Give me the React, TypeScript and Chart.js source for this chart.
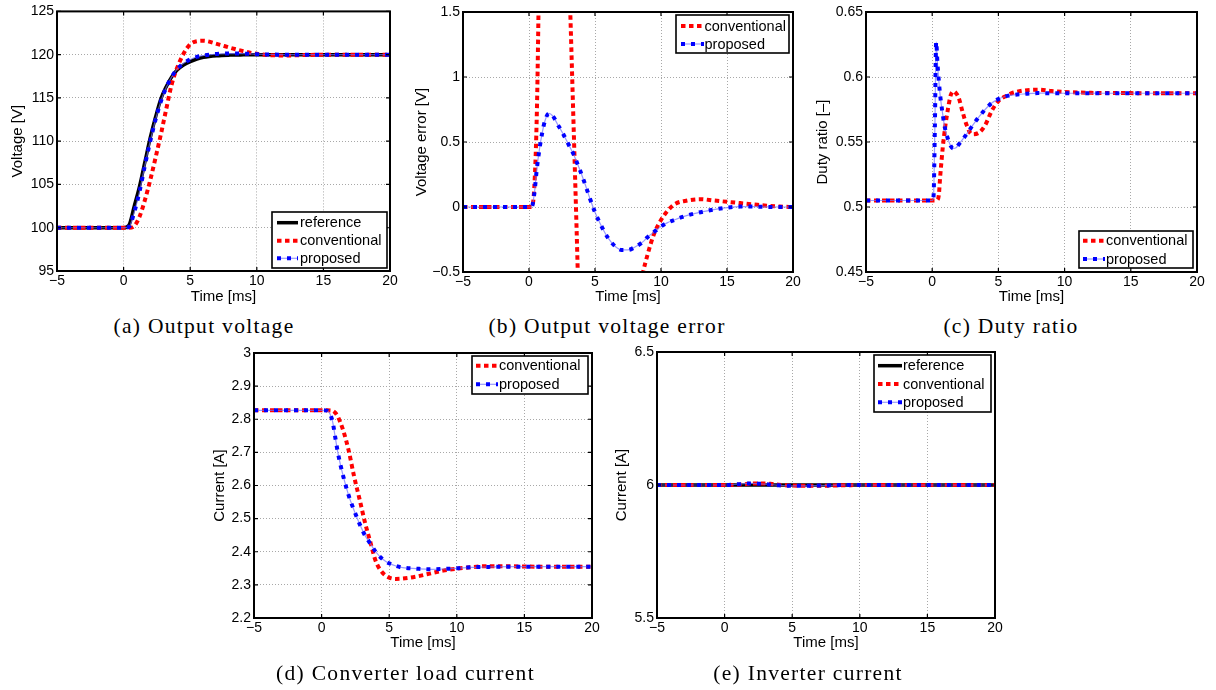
import React, { useEffect, useRef } from "react";
import { Chart, registerables } from "chart.js";

Chart.register(...registerables);

// ---------------- data ----------------
const timeTicks = [-5, 0, 5, 10, 15, 20];

// (a) Output voltage
const timeA = [-5, 0, 0.4, 0.8, 1.2, 1.6, 2.0, 2.4, 2.8, 3.2, 3.6, 4.0, 4.5, 5, 5.5, 6, 7, 8, 9, 10, 11, 12, 14, 16, 20];
const voltageReference = [100, 100, 100.3, 102.5, 104.8, 107.6, 110.4, 112.8, 114.9, 116.3, 117.4, 118.2, 118.8, 119.2, 119.5, 119.7, 119.88, 119.95, 119.98, 120, 120, 120, 120, 120, 120];
const voltageConventional = [100, 100, 100, 100.2, 101.3, 103.2, 105.5, 108.1, 110.8, 113.7, 116.5, 118.4, 120.1, 121.2, 121.55, 121.6, 121.25, 120.8, 120.4, 120.1, 119.95, 119.9, 119.97, 120, 120];
const voltageProposed = [100, 100, 100.1, 101.8, 104.2, 107.2, 110.0, 112.5, 114.6, 116.2, 117.4, 118.3, 119.0, 119.45, 119.75, 119.9, 120.08, 120.13, 120.12, 120.06, 120.02, 120, 120, 120, 120];
const voltageTicks = [95, 100, 105, 110, 115, 120, 125];

// (b) Output voltage error
const timeB = [-5, 0, 0.2, 0.4, 0.6, 0.8, 1.0, 1.2, 1.5, 1.8, 2.2, 2.6, 3.0, 3.2, 3.4, 3.6, 3.8, 4.2, 4.6, 5.0, 5.5, 6.0, 6.5, 7.0, 7.5, 8.0, 8.6, 9.0, 9.5, 10, 10.5, 11, 12, 13, 14, 15, 16, 17, 18, 19, 20];
const errorConventional = [0, 0, 0.0, 0.15, 0.75, 2.0, 2.8, 3.5, 4.3, 4.8, 4.7, 3.6, 1.95, 1.25, 0.55, -0.15, -0.85, -1.5, -1.8, -1.9, -1.9, -1.8, -1.6, -1.4, -1.1, -0.85, -0.52, -0.36, -0.2, -0.1, -0.03, 0.02, 0.05, 0.06, 0.05, 0.04, 0.03, 0.02, 0.01, 0.003, 0];
const errorProposed = [0, 0, 0, 0.1, 0.3, 0.45, 0.57, 0.66, 0.72, 0.7, 0.63, 0.56, 0.48, 0.44, 0.4, 0.35, 0.3, 0.19, 0.07, -0.04, -0.15, -0.24, -0.3, -0.33, -0.33, -0.31, -0.27, -0.23, -0.19, -0.15, -0.12, -0.1, -0.065, -0.04, -0.02, -0.005, 0.003, 0.003, 0.001, 0, 0];
const errorTicks = [-0.5, 0, 0.5, 1, 1.5];

// (c) Duty ratio
const timeC = [-5, 0, 0.1, 0.2, 0.3, 0.4, 0.5, 0.6, 0.7, 0.8, 0.9, 1.0, 1.2, 1.4, 1.6, 1.8, 2.0, 2.3, 2.6, 3.0, 3.5, 4.0, 4.5, 5.0, 5.5, 6.0, 7.0, 8.0, 9.0, 10, 12, 15, 20];
const dutyConventional = [0.505, 0.505, 0.505, 0.505, 0.505, 0.5055, 0.509, 0.523, 0.535, 0.546, 0.555, 0.563, 0.576, 0.586, 0.589, 0.5875, 0.584, 0.573, 0.563, 0.556, 0.557, 0.563, 0.574, 0.5815, 0.585, 0.5875, 0.5897, 0.5902, 0.5892, 0.5885, 0.5878, 0.5876, 0.5875];
const dutyProposed = [0.505, 0.505, 0.508, 0.56, 0.627, 0.61, 0.597, 0.586, 0.578, 0.571, 0.564, 0.559, 0.552, 0.547, 0.545, 0.5455, 0.548, 0.552, 0.556, 0.562, 0.569, 0.575, 0.58, 0.583, 0.585, 0.586, 0.587, 0.5876, 0.5875, 0.5875, 0.5875, 0.5875, 0.5875];
const dutyTicks = [0.45, 0.5, 0.55, 0.6, 0.65];

// (d) Converter load current
const timeD = [-5, 0, 0.4, 0.8, 1.0, 1.2, 1.6, 2.0, 2.4, 2.8, 3.2, 3.6, 4.0, 4.5, 5.0, 5.5, 6.0, 7.0, 8.0, 9.0, 10, 11, 12, 14, 16, 20];
const loadConventional = [2.827, 2.827, 2.827, 2.826, 2.82, 2.808, 2.766, 2.706, 2.628, 2.56, 2.49, 2.43, 2.372, 2.337, 2.322, 2.318, 2.319, 2.325, 2.334, 2.343, 2.349, 2.353, 2.356, 2.356, 2.355, 2.355];
const loadProposed = [2.827, 2.827, 2.826, 2.795, 2.748, 2.7, 2.628, 2.57, 2.525, 2.485, 2.45, 2.425, 2.4, 2.378, 2.365, 2.357, 2.352, 2.349, 2.347, 2.348, 2.35, 2.353, 2.354, 2.355, 2.355, 2.355];
const loadTicks = [2.2, 2.3, 2.4, 2.5, 2.6, 2.7, 2.8, 2.9, 3];

// (e) Inverter current
const timeE = [-5, 0, 1, 1.5, 2, 2.5, 3, 3.5, 4, 5, 6, 7, 8, 9, 10, 12, 15, 20];
const inverterReference = [6, 6, 6, 6, 6, 6, 6, 6, 6, 6, 6, 6, 6, 6, 6, 6, 6, 6];
const inverterConventional = [6, 6, 6.001, 6.003, 6.005, 6.006, 6.006, 6.004, 6.001, 5.998, 5.997, 5.997, 5.998, 5.999, 6, 6, 6, 6];
const inverterProposed = [6, 6, 6.003, 6.005, 6.006, 6.005, 6.003, 6.001, 5.999, 5.997, 5.997, 5.998, 5.999, 6, 6, 6, 6, 6];
const inverterTicks = [5.5, 6, 6.5];

// ---------------- styles ----------------
type Layer = { color: string; width: number; dash: number[] };
const STYLES: Record<string, Layer[]> = {
  reference: [{ color: "#000000", width: 3.5, dash: [] }],
  conventional: [{ color: "#ff0000", width: 4, dash: [4.5, 3.5] }],
  proposed: [
    { color: "rgba(110,110,255,0.7)", width: 1.2, dash: [] },
    { color: "#0000ff", width: 4, dash: [4, 6] },
  ],
};

const SANS = "'Liberation Sans', Arial, Helvetica, sans-serif";
const GRID = "#a8a8a8";

type Series = { kind: string; label: string; values: number[] };
type PanelDef = {
  x: number; y: number; w: number; h: number;
  area: { l: number; t: number; r: number; b: number };
  yMin: number; yMax: number; yTicks: number[]; yTitle: string;
  yTitleX: number; xTitleY: number;
  times: number[]; series: Series[];
  legend: { x1: number; x2: number; y1: number; y2: number; rows: number[]; s1: number; s2: number; tx: number };
  caption: string; captionX: number; captionY: number;
};

const PANELS: PanelDef[] = [
  {
    x: 0, y: 0, w: 400, h: 310,
    area: { l: 57, t: 9, r: 390, b: 271 },
    yMin: 95, yMax: 125, yTicks: voltageTicks, yTitle: "Voltage [V]",
    yTitleX: 18, xTitleY: 297,
    times: timeA,
    series: [
      { kind: "reference", label: "reference", values: voltageReference },
      { kind: "conventional", label: "conventional", values: voltageConventional },
      { kind: "proposed", label: "proposed", values: voltageProposed },
    ],
    legend: { x1: 272, x2: 387, y1: 212, y2: 268, rows: [222.7, 240.7, 258.3], s1: 277, s2: 298, tx: 300 },
    caption: "(a) Output voltage", captionX: 204, captionY: 326,
  },
  {
    x: 400, y: 0, w: 405, h: 310,
    area: { l: 63, t: 12, r: 393, b: 272 },
    yMin: -0.5, yMax: 1.5, yTicks: errorTicks, yTitle: "Voltage error [V]",
    yTitleX: 21.7, xTitleY: 297,
    times: timeB,
    series: [
      { kind: "conventional", label: "conventional", values: errorConventional },
      { kind: "proposed", label: "proposed", values: errorProposed },
    ],
    legend: { x1: 676, x2: 789, y1: 15, y2: 53, rows: [26, 44], s1: 681, s2: 704, tx: 704.5 },
    caption: "(b) Output voltage error", captionX: 607, captionY: 326,
  },
  {
    x: 805, y: 0, w: 411, h: 310,
    area: { l: 61, t: 12, r: 392, b: 272 },
    yMin: 0.45, yMax: 0.65, yTicks: dutyTicks, yTitle: "Duty ratio [\u2013]",
    yTitleX: 18, xTitleY: 297,
    times: timeC,
    series: [
      { kind: "conventional", label: "conventional", values: dutyConventional },
      { kind: "proposed", label: "proposed", values: dutyProposed },
    ],
    legend: { x1: 1079, x2: 1193, y1: 231, y2: 268, rows: [240.7, 259], s1: 1083, s2: 1105, tx: 1106 },
    caption: "(c) Duty ratio", captionX: 1011, captionY: 326,
  },
  {
    x: 200, y: 340, w: 405, h: 325,
    area: { l: 54, t: 13, r: 392, b: 278 },
    yMin: 2.2, yMax: 3, yTicks: loadTicks, yTitle: "Current [A]",
    yTitleX: 19.7, xTitleY: 303.3,
    times: timeD,
    series: [
      { kind: "conventional", label: "conventional", values: loadConventional },
      { kind: "proposed", label: "proposed", values: loadProposed },
    ],
    legend: { x1: 472, x2: 588, y1: 356, y2: 394, rows: [365.7, 384.3], s1: 476, s2: 498, tx: 499 },
    caption: "(d) Converter load current", captionX: 405.5, captionY: 673,
  },
  {
    x: 605, y: 340, w: 405, h: 325,
    area: { l: 52, t: 12, r: 390, b: 278 },
    yMin: 5.5, yMax: 6.5, yTicks: inverterTicks, yTitle: "Current [A]",
    yTitleX: 17, xTitleY: 303.3,
    times: timeE,
    series: [
      { kind: "reference", label: "reference", values: inverterReference },
      { kind: "conventional", label: "conventional", values: inverterConventional },
      { kind: "proposed", label: "proposed", values: inverterProposed },
    ],
    legend: { x1: 874, x2: 991, y1: 355, y2: 412, rows: [365.7, 384, 402.3], s1: 878, s2: 902, tx: 903 },
    caption: "(e) Inverter current", captionX: 808, captionY: 673,
  },
];

function fmt(v: number): string {
  const s = String(Math.round(v * 1000) / 1000);
  return s.replace("-", "\u2212");
}

function framePlugin(p: PanelDef) {
  return {
    id: "matlabFrame",
    afterDatasetsDraw(chart: any) {
      const { ctx, chartArea, scales } = chart;
      const { left, top, right, bottom } = chartArea;
      const xs = scales.x;
      const ys = scales.y;
      ctx.save();
      ctx.strokeStyle = "#000";
      ctx.lineWidth = 1.2;
      ctx.setLineDash([]);
      ctx.beginPath();
      for (const v of timeTicks) {
        const px = xs.getPixelForValue(v);
        ctx.moveTo(px, bottom);
        ctx.lineTo(px, bottom - 4);
        ctx.moveTo(px, top);
        ctx.lineTo(px, top + 4);
      }
      for (const v of p.yTicks) {
        const py = ys.getPixelForValue(v);
        ctx.moveTo(left, py);
        ctx.lineTo(left + 4, py);
        ctx.moveTo(right, py);
        ctx.lineTo(right - 4, py);
      }
      ctx.stroke();
      ctx.lineWidth = 2;
      ctx.strokeRect(left, top, right - left, bottom - top);

      // legend
      const L = p.legend;
      const ox = p.x;
      const oy = p.y;
      ctx.fillStyle = "#fff";
      ctx.fillRect(L.x1 - ox, L.y1 - oy, L.x2 - L.x1, L.y2 - L.y1);
      ctx.lineWidth = 1.6;
      ctx.strokeStyle = "#000";
      ctx.strokeRect(L.x1 - ox, L.y1 - oy, L.x2 - L.x1, L.y2 - L.y1);
      ctx.font = `14.5px ${SANS}`;
      ctx.textBaseline = "middle";
      ctx.textAlign = "left";
      p.series.forEach((s, i) => {
        const ry = L.rows[i] - oy;
        for (const layer of STYLES[s.kind]) {
          ctx.save();
          ctx.strokeStyle = layer.color;
          ctx.lineWidth = layer.width;
          ctx.setLineDash(layer.dash);
          ctx.lineCap = "butt";
          ctx.beginPath();
          ctx.moveTo(L.s1 - ox, ry);
          ctx.lineTo(L.s2 - ox, ry);
          ctx.stroke();
          ctx.restore();
        }
        ctx.fillStyle = "#000";
        ctx.fillText(s.label, L.tx - ox, ry + 0.5);
      });
      ctx.restore();
    },
  };
}

function buildConfig(p: PanelDef): any {
  const datasets: any[] = [];
  p.series.forEach((s) => {
    STYLES[s.kind].forEach((layer) => {
      datasets.push({
        label: s.label,
        data: p.times.map((t, i) => ({ x: t, y: s.values[i] })),
        borderColor: layer.color,
        borderWidth: layer.width,
        borderDash: layer.dash,
        borderCapStyle: "butt",
        borderJoinStyle: "round",
        pointRadius: 0,
        pointHoverRadius: 0,
        fill: false,
        cubicInterpolationMode: "monotone",
        clip: 0,
        // later series are drawn on top (lower order = drawn last)
        order: 100 - datasets.length,
      });
    });
  });
  const W = p.w;
  const H = p.h;
  const A = p.area;
  const tickFont = { family: SANS, size: 14 };
  const titleFont = { family: SANS, size: 15, lineHeight: 1.2 };
  return {
    type: "line",
    data: { datasets },
    options: {
      animation: false,
      responsive: false,
      maintainAspectRatio: false,
      devicePixelRatio: 1,
      events: [],
      layout: { padding: { left: 0, top: A.t, right: W - A.r, bottom: 0 } },
      elements: { line: { capBezierPoints: false } },
      plugins: { legend: { display: false }, tooltip: { enabled: false } },
      scales: {
        x: {
          type: "linear",
          min: -5,
          max: 20,
          afterBuildTicks: (s: any) => {
            s.ticks = timeTicks.map((v) => ({ value: v }));
          },
          afterFit: (s: any) => {
            s.height = H - A.b;
          },
          ticks: {
            font: tickFont, color: "#000", padding: 2,
            maxRotation: 0, minRotation: 0, autoSkip: false,
            callback: (v: any) => fmt(Number(v)),
          },
          grid: { color: GRID, lineWidth: 1, drawTicks: false },
          border: { display: false, dash: [1, 2] },
          title: {
            display: true, text: "Time [ms]", font: titleFont, color: "#000",
            padding: { top: 0, bottom: H - p.xTitleY - 9 },
          },
        },
        y: {
          type: "linear",
          min: p.yMin,
          max: p.yMax,
          afterBuildTicks: (s: any) => {
            s.ticks = p.yTicks.map((v) => ({ value: v }));
          },
          afterFit: (s: any) => {
            s.width = A.l;
          },
          ticks: {
            font: tickFont, color: "#000", padding: 3, autoSkip: false,
            callback: (v: any) => fmt(Number(v)),
          },
          grid: { color: GRID, lineWidth: 1, drawTicks: false },
          border: { display: false, dash: [1, 2] },
          title: {
            display: true, text: p.yTitle, font: titleFont, color: "#000",
            padding: { top: p.yTitleX - 9, bottom: 0 },
          },
        },
      },
    },
    plugins: [framePlugin(p)],
  };
}

function Panel({ def }: { def: PanelDef }) {
  const ref = useRef<HTMLCanvasElement>(null);
  useEffect(() => {
    if (!ref.current) return;
    const chart = new Chart(ref.current, buildConfig(def));
    return () => chart.destroy();
  }, [def]);
  return (
    <canvas
      ref={ref}
      width={def.w}
      height={def.h}
      style={{ position: "absolute", left: def.x, top: def.y, width: def.w, height: def.h }}
    />
  );
}

export default function App() {
  return (
    <div style={{ position: "absolute", left: 0, top: 0, width: 1216, height: 690, background: "#fff", overflow: "hidden" }}>
      {PANELS.map((p, i) => (
        <Panel key={i} def={p} />
      ))}
      {PANELS.map((p, i) => (
        <div
          key={"cap" + i}
          style={{
            position: "absolute",
            left: p.captionX,
            top: p.captionY - 12,
            transform: "translateX(-50%)",
            whiteSpace: "nowrap",
            fontFamily: "'Liberation Serif', 'DejaVu Serif', serif",
            fontSize: "21.5px",
            lineHeight: "24px",
            letterSpacing: "1.3px",
            color: "#000",
          }}
        >
          {p.caption}
        </div>
      ))}
    </div>
  );
}
